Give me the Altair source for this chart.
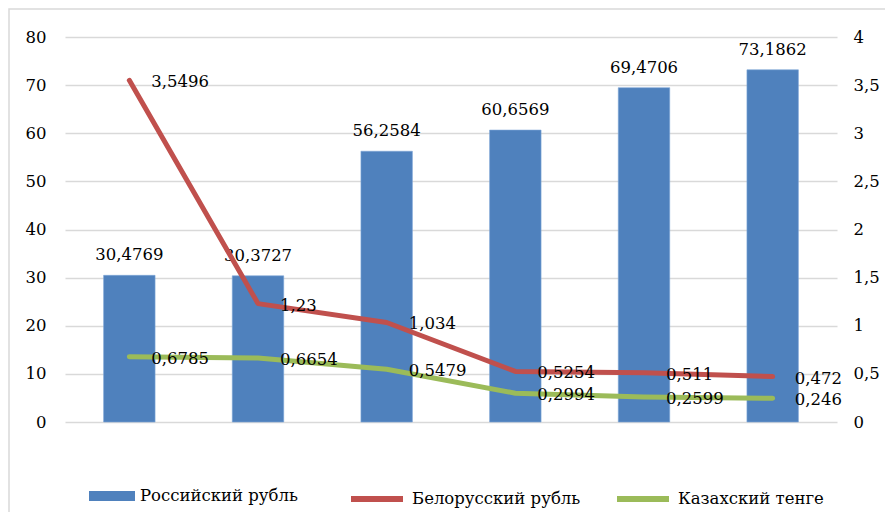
import altair as alt
import pandas as pd

years = ["2010", "2012", "2014", "2016", "2018", "2020"]
rub = [30.4769, 30.3727, 56.2584, 60.6569, 69.4706, 73.1862]
byn = [3.5496, 1.23, 1.034, 0.5254, 0.511, 0.472]
kzt = [0.6785, 0.6654, 0.5479, 0.2994, 0.2599, 0.246]
names = ["Российский рубль", "Белорусский рубль", "Казахский тенге"]
colors = ["#4f81bd", "#c0504d", "#9bbb59"]
left_ticks = [0, 10, 20, 30, 40, 50, 60, 70, 80]
right_ticks = [0, 0.5, 1, 1.5, 2, 2.5, 3, 3.5, 4]

FONT = "DejaVu Serif"
FS = 16.5

bar_df = pd.DataFrame({"year": years, "value": rub, "series": names[0]})
line_df = pd.DataFrame({
    "year": years + years,
    "value": byn + kzt,
    "series": [names[1]] * len(years) + [names[2]] * len(years),
})

x_enc = alt.X(
    "year:N",
    sort=years,
    scale=alt.Scale(paddingInner=0.6, paddingOuter=0.3),
    axis=alt.Axis(title=None, labelAngle=0, labelFont=FONT, labelFontSize=FS,
                  labelColor="#000000", labelPadding=15, domain=False, ticks=False),
)
x_plain = alt.X("year:N", sort=years,
                scale=alt.Scale(paddingInner=0.6, paddingOuter=0.3), axis=None)

y_left = alt.Y(
    "value:Q",
    scale=alt.Scale(domain=[0, 80], nice=False),
    axis=alt.Axis(title=None, values=left_ticks, orient="left", grid=True,
                  gridColor="#d9d9d9", gridWidth=1.3, domain=False, ticks=False,
                  labelFont=FONT, labelFontSize=FS, labelColor="#000000",
                  labelPadding=19),
)
y_left_plain = alt.Y("value:Q", scale=alt.Scale(domain=[0, 80], nice=False), axis=None)

y_right = alt.Y(
    "value:Q",
    scale=alt.Scale(domain=[0, 4], nice=False),
    axis=alt.Axis(title=None, values=right_ticks, orient="right", grid=False,
                  domain=False, ticks=False, labelFont=FONT, labelFontSize=FS,
                  labelColor="#000000", labelPadding=16,
                  labelExpr="replace(toString(datum.value), '.', ',')"),
)
y_right_plain = alt.Y("value:Q", scale=alt.Scale(domain=[0, 4], nice=False), axis=None)

bars = alt.Chart(bar_df).mark_bar(stroke="#7ea6d6", strokeWidth=0.6).encode(
    x=x_enc,
    y=y_left,
    fill=alt.Fill(
        "series:N",
        scale=alt.Scale(domain=[names[0]], range=[colors[0]]),
        legend=alt.Legend(title=None, orient="none", legendX=24, legendY=436,
                          symbolType="M-1,-0.22H1V0.22H-1Z", symbolSize=2116,
                          symbolStrokeWidth=0, labelFont=FONT, labelFontSize=FS,
                          labelColor="#000000", labelOffset=5, labelLimit=400),
    ),
)

bar_text = alt.Chart(bar_df).transform_calculate(
    label="replace(toString(datum.value), '.', ',')"
).mark_text(font=FONT, fontSize=FS, color="#000000", baseline="alphabetic",
            dy=-15).encode(
    x=x_plain, y=y_left_plain, text="label:N"
)

lines = alt.Chart(line_df).mark_line(strokeWidth=5, strokeCap="round",
                                     strokeJoin="round").encode(
    x=x_plain,
    y=y_right,
    stroke=alt.Stroke(
        "series:N",
        sort=names[1:],
        scale=alt.Scale(domain=names[1:], range=colors[1:]),
        legend=alt.Legend(title=None, orient="none", legendX=283, legendY=433,
                          direction="horizontal", symbolType="stroke",
                          symbolSize=2704, symbolStrokeWidth=6,
                          columnPadding=24, labelFont=FONT, labelFontSize=FS,
                          labelColor="#000000", labelOffset=6, labelLimit=400),
    ),
    detail="series:N",
)

line_text = alt.Chart(line_df).transform_calculate(
    label="replace(toString(datum.value), '.', ',')"
).mark_text(font=FONT, fontSize=FS, color="#000000", align="left",
            baseline="middle", dx=22, dy=2).encode(
    x=x_plain, y=y_right_plain, text="label:N"
)

frame = alt.Chart(pd.DataFrame({"a": [0]})).mark_rect(
    fill=None, stroke="#d9d9d9", strokeWidth=1.5
).encode(x=alt.value(-56), x2=alt.value(900), y=alt.value(-28), y2=alt.value(700))

chart = alt.layer(frame, bars, bar_text, lines, line_text).resolve_scale(
    y="independent", fill="independent", stroke="independent"
).properties(
    width=772, height=385,
    autosize=alt.AutoSizeParams(type="none"),
    padding={"left": 57, "top": 29, "right": 48, "bottom": 90},
).configure_view(stroke=None)

chart.save("out.html", embed_options={"renderer": "svg", "actions": False})
